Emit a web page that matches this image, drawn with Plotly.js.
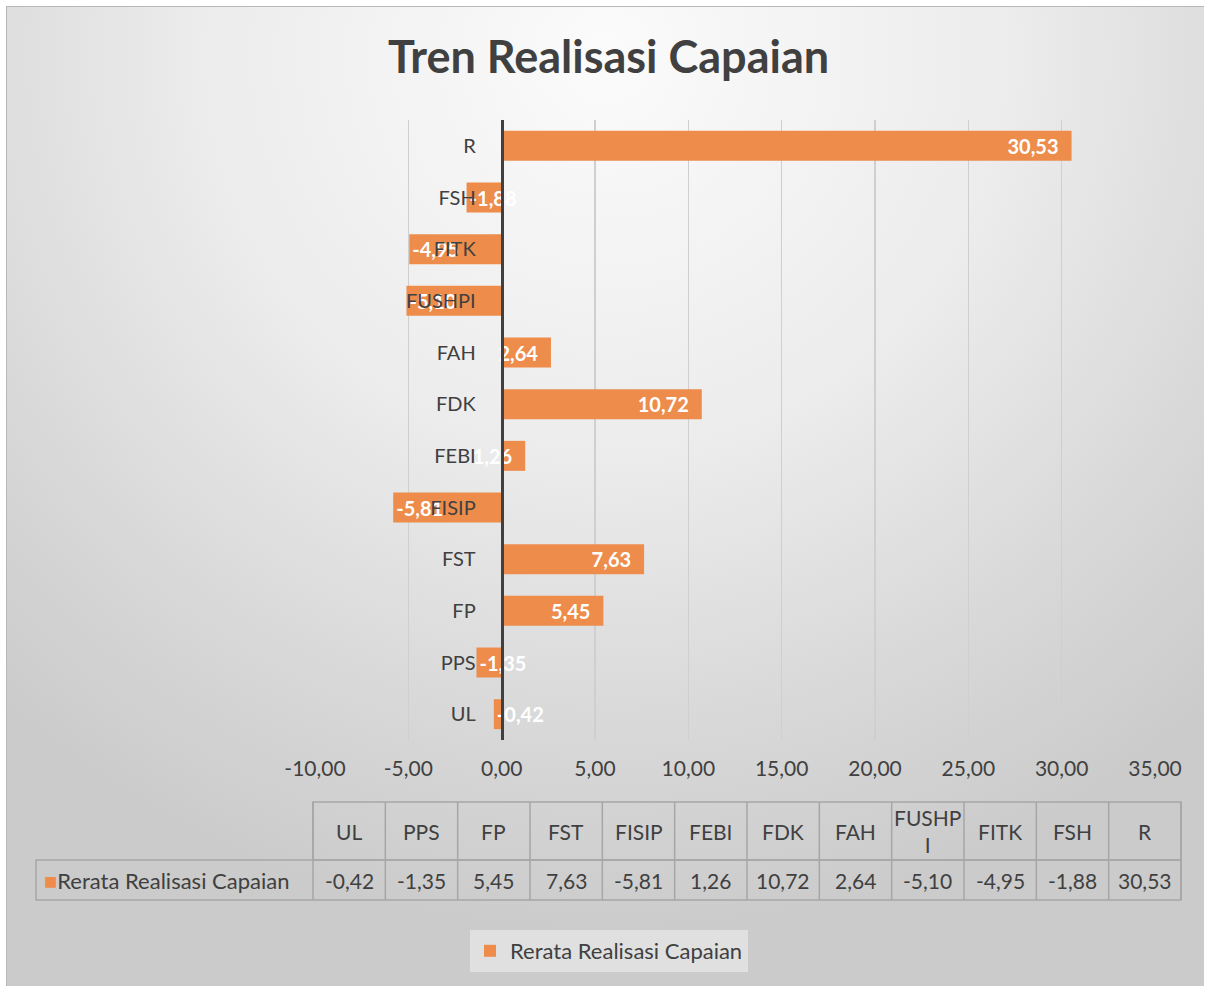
<!DOCTYPE html>
<html>
<head>
<meta charset="utf-8">
<script src="https://cdn.plot.ly/plotly-3.0.1.min.js"></script>
<style>
  html, body { margin:0; padding:0; background:#ffffff; }
  #bg { position:absolute; left:6px; top:6px; width:1197px; height:979px;
        border-left:1px solid #b8b8b8; border-top:1px solid #b8b8b8;
        background: radial-gradient(ellipse 75% 90% at 50% 5%, #fbfbfb 0%, #ececec 45%, #d6d6d6 80%, #cbcbcb 100%); }
  #chart { position:absolute; left:0; top:0; width:1205px; height:987px; }
</style>
</head>
<body>
<div id="bg"></div>
<div id="chart"></div>
<script>
const chartTitle = 'Tren Realisasi Capaian';
const seriesName = 'Rerata Realisasi Capaian';
const categories = ['UL','PPS','FP','FST','FISIP','FEBI','FDK','FAH','FUSHPI','FITK','FSH','R'];
const values = [-0.42,-1.35,5.45,7.63,-5.81,1.26,10.72,2.64,-5.10,-4.95,-1.88,30.53];
const xTicks = [-10,-5,0,5,10,15,20,25,30,35];

const W = 1205, H = 987;
const M = {l:315, r:50, t:120, b:247};
const PW = W - M.l - M.r, PH = H - M.t - M.b;
const px2x = p => (p - M.l) / PW;
const py2y = p => (H - M.b - p) / PH;

const barColor = '#ED8C4B';
const textColor = '#404040';
const fontFam = 'Lato, "Open Sans", sans-serif';
const fmt = v => v.toFixed(2).replace('.', ',');
const wrap = s => s.length > 5 ? s.slice(0,5) + '<br>' + s.slice(5) : s;

const trace = {
  type: 'bar', orientation: 'h',
  y: categories, x: values, name: seriesName,
  marker: {color: barColor},
  text: values.map(v => fmt(v) + (v > 0 ? '\u2002' : '')),
  textposition: 'inside', insidetextanchor: 'end', constraintext: 'none', textangle: 0,
  insidetextfont: {color: '#ffffff', size: 20, family: fontFam, weight: 'bold'},
  hoverinfo: 'x+y', cliponaxis: false
};

// data table built from the arrays
const tblLeft = 313, tblRight = 1181, labelLeft = 36;
const hdrTop = 802, hdrBot = 860, rowBot = 900;
const colW = (tblRight - tblLeft) / categories.length;
const shapes = [];
const annotations = [];
const lineStyle = {color: '#a6a6a6', width: 1.5};
shapes.push({type:'rect', xref:'paper', yref:'paper', x0:px2x(tblLeft), x1:px2x(tblRight), y0:py2y(hdrBot), y1:py2y(hdrTop), line:lineStyle});
shapes.push({type:'rect', xref:'paper', yref:'paper', x0:px2x(labelLeft), x1:px2x(tblRight), y0:py2y(rowBot), y1:py2y(hdrBot), line:lineStyle});
for (let i = 0; i <= categories.length; i++) {
  const xp = px2x(tblLeft + i * colW);
  shapes.push({type:'line', xref:'paper', yref:'paper', x0:xp, x1:xp, y0:py2y(rowBot), y1:py2y(hdrTop), line:lineStyle});
}
categories.forEach((c, i) => {
  const cx = px2x(tblLeft + (i + 0.5) * colW);
  annotations.push({xref:'paper', yref:'paper', x:cx, y:py2y((hdrTop+hdrBot)/2), text:wrap(c), showarrow:false,
    xanchor:'center', yanchor:'middle', font:{size:21, color:textColor, family:fontFam}});
  annotations.push({xref:'paper', yref:'paper', x:cx, y:py2y((hdrBot+rowBot)/2), text:fmt(values[i]), showarrow:false,
    xanchor:'center', yanchor:'middle', font:{size:21, color:textColor, family:fontFam}});
});
annotations.push({xref:'paper', yref:'paper', x:px2x(42), y:py2y((hdrBot+rowBot)/2),
  text:'<span style="color:' + barColor + '">■</span>' + seriesName, showarrow:false,
  xanchor:'left', yanchor:'middle', font:{size:22, color:textColor, family:fontFam}});

const layout = {
  width: W, height: H,
  margin: M,
  paper_bgcolor: 'rgba(0,0,0,0)', plot_bgcolor: 'rgba(0,0,0,0)',
  separators: ',.',
  font: {family: fontFam, color: textColor, size: 20},
  title: {text: '<b>' + chartTitle + '</b>', x: 0.505, xanchor: 'center', y: 1 - 57/H, yanchor: 'middle',
          font: {size: 45, color: textColor, family: fontFam}},
  bargap: 0.42,
  xaxis: {range: [-10, 35], tickvals: xTicks, ticktext: xTicks.map(fmt),
          showgrid: true, gridcolor: '#cfcfcf', gridwidth: 1.5, zeroline: false,
          ticks: '', ticklabelstandoff: 14, tickfont: {size: 21, color: textColor}, fixedrange: true},
  yaxis: {type: 'category', anchor: 'free', position: (0 - (-10)) / 45,
          showline: true, linecolor: '#404040', linewidth: 3, showgrid: false, zeroline: false,
          ticks: '', ticklabelstandoff: 21, tickfont: {size: 20, color: textColor}, fixedrange: true},
  showlegend: true,
  legend: {orientation: 'h', x: px2x(609), xanchor: 'center', y: py2y(951), yanchor: 'middle',
           bgcolor: 'rgba(232,232,232,0.7)', font: {size: 22, color: textColor}, itemwidth: 30},
  shapes: shapes,
  annotations: annotations
};

Plotly.newPlot('chart', [trace], layout, {displayModeBar: false, staticPlot: true});
</script>
</body>
</html>
